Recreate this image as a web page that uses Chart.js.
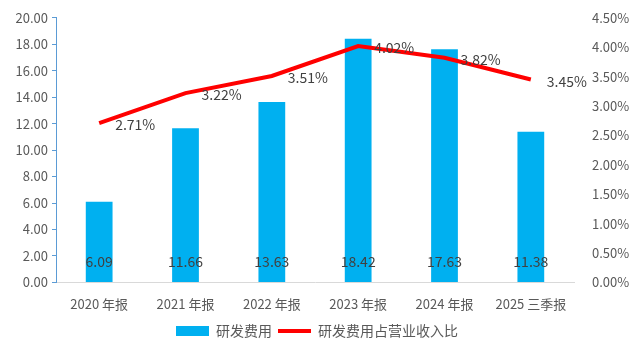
<!DOCTYPE html>
<html>
<head>
<meta charset="utf-8">
<script src="https://cdn.jsdelivr.net/npm/chart.js@4.4.0/dist/chart.umd.min.js"></script>
<style>
  html, body { margin: 0; padding: 0; background: #fff; }
  #wrap { width: 634px; height: 360px; }
</style>
</head>
<body>
<div id="wrap"><canvas id="rdChart" width="634" height="360"></canvas></div>
<script>
const categories = ['2020 年报', '2021 年报', '2022 年报', '2023 年报', '2024 年报', '2025 三季报'];
const rdCost = [6.09, 11.66, 13.63, 18.42, 17.63, 11.38];
const rdRatio = [2.71, 3.22, 3.51, 4.02, 3.82, 3.45];

const fontFamily = '"Noto Sans CJK SC", "Liberation Sans", sans-serif';

// draw value labels: bar values near the base, line values to the right of the points
const valueLabels = {
    id: 'valueLabels',
    afterDatasetsDraw(chart) {
        const ctx = chart.ctx;
        ctx.save();
        ctx.font = '14px ' + fontFamily;
        ctx.fillStyle = '#404040';
        ctx.textBaseline = 'middle';

        const barMeta = chart.getDatasetMeta(0);
        ctx.textAlign = 'center';
        barMeta.data.forEach((bar, i) => {
            ctx.fillText(rdCost[i].toFixed(2), bar.x, bar.base - 20);
        });

        const lineMeta = chart.getDatasetMeta(1);
        ctx.textAlign = 'left';
        lineMeta.data.forEach((pt, i) => {
            ctx.fillText(rdRatio[i].toFixed(2) + '%', pt.x + 16, pt.y + 2);
        });
        ctx.restore();
    }
};

const ctx = document.getElementById('rdChart').getContext('2d');
const rdChart = new Chart(ctx, {
    data: {
        labels: categories,
        datasets: [{
            type: 'bar',
            label: '研发费用',
            data: rdCost,
            backgroundColor: '#00B0F0',
            borderWidth: 0,
            yAxisID: 'y',
            categoryPercentage: 1,
            barPercentage: 0.31,
            pointStyle: 'rect',
            order: 2,
        }, {
            type: 'line',
            label: '研发费用占营业收入比',
            data: rdRatio,
            borderColor: '#FF0000',
            backgroundColor: '#FF0000',
            borderWidth: 4,
            pointRadius: 0,
            tension: 0,
            yAxisID: 'y1',
            pointStyle: 'line',
            order: 1,
        }],
    },
    options: {
        responsive: false,
        animation: false,
        layout: {
            padding: { top: 10, left: 0, right: 0, bottom: 12 },
        },
        plugins: {
            legend: {
                position: 'bottom',
                labels: {
                    usePointStyle: true,
                    pointStyleWidth: 33,
                    boxHeight: 10,
                    padding: 6,
                    color: '#595959',
                    font: { family: fontFamily, size: 14 },
                    sort: (a, b) => a.datasetIndex - b.datasetIndex,
                },
            },
            tooltip: { enabled: false },
        },
        scales: {
            x: {
                grid: { display: false },
                border: { color: '#D9D9D9' },
                ticks: {
                    color: '#595959',
                    font: { family: fontFamily, size: 13 },
                    maxRotation: 0,
                    padding: 6,
                },
            },
            y: {
                position: 'left',
                min: 0,
                max: 20,
                ticks: {
                    stepSize: 2,
                    color: '#595959',
                    font: { family: fontFamily, size: 13 },
                    callback: v => v.toFixed(2),
                    padding: 4,
                },
                grid: { drawOnChartArea: false, drawTicks: true, tickLength: 4, color: '#5B9BD5' },
                border: { color: '#5B9BD5' },
                afterFit: scale => { scale.width = 56; },
            },
            y1: {
                position: 'right',
                min: 0,
                max: 4.5,
                ticks: {
                    stepSize: 0.5,
                    color: '#595959',
                    font: { family: fontFamily, size: 13 },
                    callback: v => v.toFixed(2) + '%',
                    padding: 10,
                },
                grid: { display: false },
                border: { display: false },
                afterFit: scale => { scale.width = 60; },
            },
        },
    },
    plugins: [valueLabels],
});
</script>
</body>
</html>
